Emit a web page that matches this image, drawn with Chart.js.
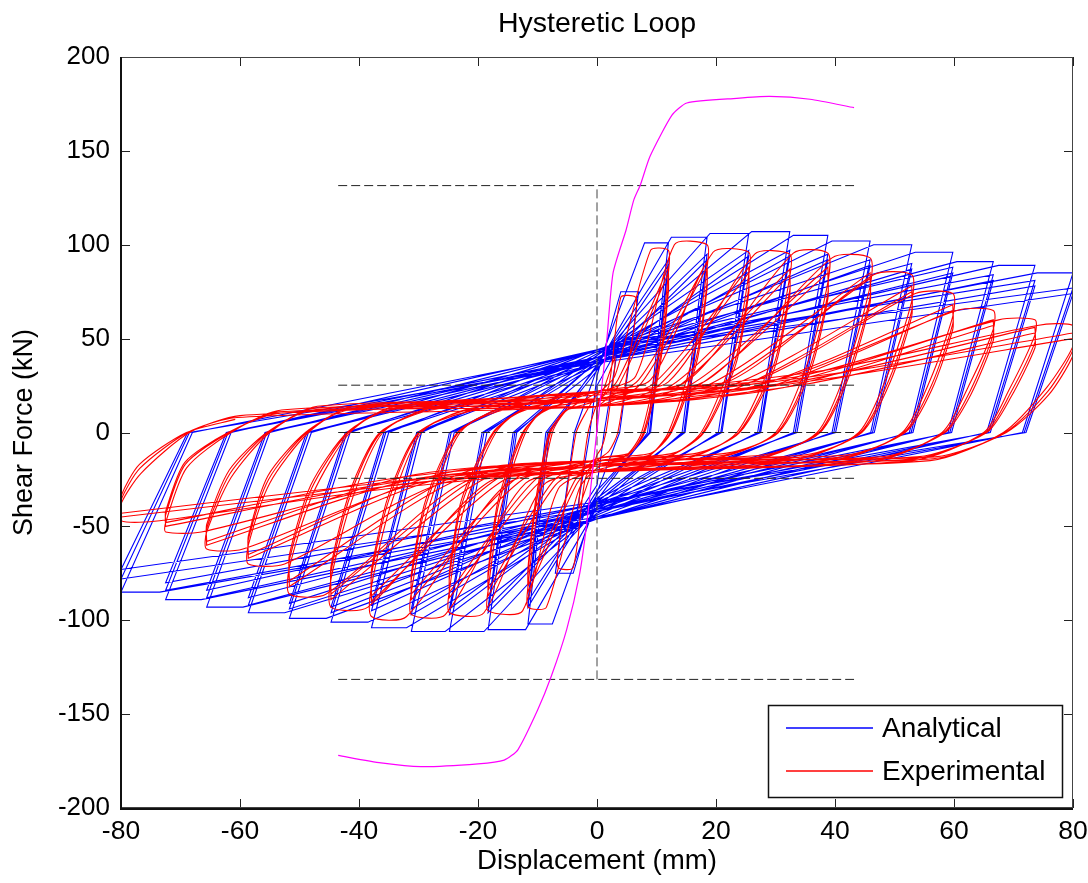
<!DOCTYPE html>
<html>
<head>
<meta charset="utf-8">
<script src="https://cdn.jsdelivr.net/npm/chart.js@4.4.0/dist/chart.umd.min.js"></script>
<style>
html,body{margin:0;padding:0;background:#fff;}
#wrap{width:1088px;height:883px;position:relative;}
canvas{display:block;}
</style>
</head>
<body>
<div id="wrap"><canvas id="c" width="1088" height="883"></canvas></div>
<script>
// ---------------- Axis / tick data ----------------
const xTicks = [-80, -60, -40, -20, 0, 20, 40, 60, 80];
const yTicks = [-200, -150, -100, -50, 0, 50, 100, 150, 200];

// ---------------- Analytical (blue) cycles ----------------
const bUp    = [25, 30, 34, 36, 33, 35, 38, 34, 38, 41, 36, 38, 42, 36, 39, 43, 37, 40, 44, 37, 40, 44, 37, 40, 44, 38, 40, 44, 38, 40, 44, 38, 40, 43, 37];
const bPPlat = [3.5, 4, 8, 12, 12, 12.5, 18.5, 18.5, 19, 25.5, 25.5, 26, 32.4, 32.4, 33, 38.8, 38.8, 39.5, 45.9, 45.9, 46.5, 52.9, 52.9, 53.5, 59.8, 59.8, 60.5, 66.6, 66.6, 67.5, 73.6, 73.6, 74, 80, 80];
const bPAmp  = [3.5, 7, 12, 12, 12, 18.5, 18.5, 18.5, 25.5, 25.5, 25.5, 32.4, 32.4, 32.4, 38.8, 38.8, 38.8, 45.9, 45.9, 45.9, 52.9, 52.9, 52.9, 59.8, 59.8, 59.8, 66.6, 66.6, 66.6, 73.6, 73.6, 73.6, 80, 80, 80];
const bPPeak = [45, 75, 101, 92, 89, 104, 95, 92, 106, 97, 94, 107, 97, 94, 105, 95, 92, 102, 92, 89, 100, 90, 87, 96, 88, 85, 91, 84, 81, 89, 81, 78, 85, 77, 74];
const bPZero = [1.2, 3.8, 8.5, 8.8, 9.0, 14.3, 14.6, 14.8, 20.4, 20.8, 21.0, 27, 27.3, 27.5, 33, 33.3, 33.6, 39.5, 39.8, 40.1, 46, 46.3, 46.6, 52.5, 52.8, 53.1, 59, 59.3, 59.6, 65.5, 65.8, 66.1, 71.5, 71.8, 72.1];
const bDown  = [-28, -32, -36, -33, -31, -40, -37, -35, -41, -38, -36, -43, -40, -37, -44, -41, -38, -45, -41, -38, -46, -42, -39, -46, -42, -39, -46, -42, -38, -46, -42, -38, -45, -41, -37];
const bNPlat = [-3.5, -4, -7.5, -11.6, -11.6, -12, -18.3, -18.3, -19, -24.8, -24.8, -25.5, -31.2, -31.2, -32, -37.9, -37.9, -38.5, -44.7, -44.7, -45.5, -51.7, -51.7, -52.5, -58.6, -58.6, -59.5, -65.6, -65.6, -66.5, -72.5, -72.5, -73.5, -80, -80];
const bNAmp  = [-3.5, -7, -11.6, -11.6, -11.6, -18.3, -18.3, -18.3, -24.8, -24.8, -24.8, -31.2, -31.2, -31.2, -37.9, -37.9, -37.9, -44.7, -44.7, -44.7, -51.7, -51.7, -51.7, -58.6, -58.6, -58.6, -65.6, -65.6, -65.6, -72.5, -72.5, -72.5, -80, -80, -80];
const bNPeak = [-45, -75, -102, -93, -90, -105, -96, -93, -106, -97, -94, -106, -97, -94, -104, -95, -92, -101, -96, -93, -99, -94, -91, -96, -92, -88, -93, -88, -84, -89, -84, -80, -85, -78, -73];
const bNZero = [-1.2, -3.8, -8, -8.3, -8.6, -13.5, -13.8, -14.1, -18.5, -19, -19.3, -24, -24.5, -24.8, -29.5, -30, -30.3, -35, -35.5, -35.8, -41.5, -42, -42.3, -48, -48.5, -48.8, -55, -55.5, -55.8, -61.5, -62, -62.3, -68, -68.5, -68.8];

// ---------------- Experimental (red) cycles ----------------
const rUp      = [12, 15, 20, 17, 14, 21, 17, 14, 22, 18, 14, 22, 18, 14, 22, 18, 14, 22, 18, 14, 22, 18, 14, 22, 18, 14, 21, 18, 14, 21, 17, 14, 20, 17, 14];
const rPKneeX  = [0.8, 2, 3, 3.5, 3.8, 6.5, 7, 7.4, 9, 9.5, 10, 12, 12.5, 13, 15, 15.5, 16, 18, 18.5, 19, 22, 22.5, 23, 26, 27, 27.5, 30, 31, 31.5, 34, 35, 35.5, 38, 39, 39.5];
const rPKneeF  = [20, 25, 30, 28, 26, 30, 28, 26, 28, 26, 24, 27, 25, 23, 27, 25, 23, 27, 25, 23, 27, 25, 23, 27, 25, 23, 28, 26, 24, 30, 28, 26, 33, 31, 29];
const rPPlat   = [3, 4, 9, 12, 12, 13, 18.5, 18.5, 19.5, 25.5, 25.5, 26.5, 32.4, 32.4, 33, 38.8, 38.8, 39.5, 45.9, 45.9, 46.5, 52.9, 52.9, 53.5, 59.8, 59.8, 60.5, 66.6, 66.6, 67.5, 73.6, 73.6, 74, 80, 80];
const rPAmp    = [3, 6.5, 12, 12, 12, 18.5, 18.5, 18.5, 25.5, 25.5, 25.5, 32.4, 32.4, 32.4, 38.8, 38.8, 38.8, 45.9, 45.9, 45.9, 52.9, 52.9, 52.9, 59.8, 59.8, 59.8, 66.6, 66.6, 66.6, 73.6, 73.6, 73.6, 80, 80, 80];
const rPPeak   = [40, 72, 97, 88, 85, 100, 91, 88, 96, 88, 85, 95, 87, 84, 95.5, 88, 85, 93, 85, 82, 84, 78, 75, 74, 68, 65, 65, 60, 57, 60, 56, 53, 57, 53, 50];
const rPDrop   = [35, 62, 85, 78, 75, 88, 80, 77, 84, 77, 74, 83, 76, 73, 80, 74, 71, 78, 72, 69, 70, 65, 62, 62, 58, 55, 55, 52, 49, 52, 48, 45, 46, 44, 41];
const rPCurveX = [2.2, 5.2, 10.5, 10.6, 10.7, 16.5, 16.7, 16.8, 23, 23.2, 23.3, 29.5, 29.7, 29.8, 35.5, 35.7, 35.8, 42.2, 42.4, 42.5, 49, 49.2, 49.3, 56, 56.2, 56.3, 62.5, 62.7, 62.8, 69.3, 69.5, 69.6, 75.6, 75.8, 75.9];
const rPCurveF = [15, 35, 45, 40, 38, 45, 40, 38, 42, 38, 36, 40, 36, 34, 38, 34, 32, 36, 33, 31, 32, 29, 27, 28, 25, 23, 25, 22, 20, 23, 21, 19, 24, 22, 20];
const rPZero   = [1.5, 3.5, 7.5, 7.8, 8, 12, 12.3, 12.5, 17.5, 17.8, 18, 23.5, 23.8, 24, 30, 30.3, 30.5, 37, 37.3, 37.5, 44, 44.3, 44.5, 51.3, 51.6, 51.8, 58, 58.3, 58.5, 65, 65.3, 65.5, 68.3, 68.6, 68.8];
const rPFlatX  = [0.8, 2, 5, 5.2, 5.4, 8.5, 8.8, 9, 12, 12.5, 12.8, 16, 16.5, 16.8, 21, 21.5, 21.8, 27, 27.5, 27.8, 34, 34.5, 34.8, 41, 41.5, 41.8, 47, 47.5, 47.8, 53, 53.5, 53.8, 56, 56.5, 56.8];
const rPFlatF  = [-8, -10, -12, -12, -11, -13, -12, -11, -13, -12, -11, -13, -12, -11, -13, -12, -11, -14, -13, -12, -14, -13, -12, -14, -13, -12, -15, -14, -13, -15, -14, -13, -15, -14, -13];
const rDown    = [-12, -15, -19, -16, -14, -20, -17, -14, -21, -17, -15, -21, -18, -15, -21, -18, -15, -21, -18, -15, -21, -18, -15, -21, -18, -15, -21, -18, -15, -21, -18, -15, -20, -17, -15];
const rNKneeX  = [-0.8, -2, -3, -3.5, -3.8, -6.5, -7, -7.4, -9, -9.5, -10, -12, -12.5, -13, -15, -15.5, -16, -18, -18.5, -19, -22, -22.5, -23, -26, -27, -27.5, -30, -31, -31.5, -34, -35, -35.5, -38, -39, -39.5];
const rNKneeF  = [-20, -25, -30, -28, -26, -30, -28, -26, -28, -26, -24, -27, -25, -23, -27, -25, -23, -26, -24, -22, -26, -24, -22, -27, -25, -23, -27, -25, -23, -28, -27, -25, -31, -30, -28];
const rNPlat   = [-3, -4, -8.5, -11.6, -11.6, -12.5, -18.3, -18.3, -19, -24.8, -24.8, -25.5, -31.2, -31.2, -32, -37.9, -37.9, -38.5, -44.7, -44.7, -45.5, -51.7, -51.7, -52.5, -58.6, -58.6, -59.5, -65.6, -65.6, -66.5, -72.5, -72.5, -73.5, -80, -80];
const rNAmp    = [-3, -6.5, -11.6, -11.6, -11.6, -18.3, -18.3, -18.3, -24.8, -24.8, -24.8, -31.2, -31.2, -31.2, -37.9, -37.9, -37.9, -44.7, -44.7, -44.7, -51.7, -51.7, -51.7, -58.6, -58.6, -58.6, -65.6, -65.6, -65.6, -72.5, -72.5, -72.5, -80, -80, -80];
const rNPeak   = [-40, -72, -93, -85, -82, -95, -87, -84, -96, -88, -85, -97, -89, -86, -98, -90, -87, -93, -89, -86, -86, -82, -79, -70, -67, -65, -62, -60, -58, -53, -50, -48, -47, -45, -43];
const rNDrop   = [-35, -62, -82, -75, -72, -84, -77, -74, -84, -77, -74, -85, -78, -75, -82, -76, -73, -78, -74, -71, -72, -68, -65, -60, -57, -55, -53, -51, -49, -48, -44, -42, -38, -36, -34];
const rNCurveX = [-2.2, -5.2, -10, -10.2, -10.3, -16.3, -16.5, -16.6, -22.5, -22.7, -22.8, -28.5, -28.7, -28.8, -34.8, -35, -35.1, -41.2, -41.4, -41.5, -47.8, -48, -48.1, -55, -55.2, -55.3, -61.5, -61.7, -61.8, -69, -69.2, -69.3, -76.6, -76.8, -76.9];
const rNCurveF = [-15, -35, -42, -38, -36, -42, -38, -36, -42, -38, -36, -42, -38, -36, -40, -36, -34, -36, -33, -31, -33, -30, -28, -27, -25, -23, -24, -22, -20, -19, -17, -16, -21.6, -19, -17];
const rNZero   = [-1.5, -3.5, -7.5, -7.8, -8, -12, -12.3, -12.5, -17, -17.3, -17.5, -23, -23.3, -23.5, -29.5, -29.8, -30, -36, -36.3, -36.5, -41.5, -41.8, -42, -48.5, -48.8, -49, -55, -55.3, -55.5, -61.5, -61.8, -62, -68.5, -68.8, -69];
const rNFlatX  = [-0.8, -2, -5, -5.2, -5.4, -8.5, -8.8, -9, -12, -12.5, -12.8, -16, -16.5, -16.8, -21, -21.5, -21.8, -27, -27.5, -27.8, -34, -34.5, -34.8, -41, -41.5, -41.8, -47, -47.5, -47.8, -53, -53.5, -53.8, -60, -60.5, -60.8];
const rNFlatF  = [8, 10, 12, 12, 11, 13, 12, 11, 13, 12, 11, 13, 12, 11, 13, 12, 11, 14, 13, 12, 14, 13, 12, 14, 13, 12, 14, 13, 12, 12, 11, 10, 9, 8, 7];

// ---------------- Backbone (magenta) ----------------
const backboneX = [-43.5, -36.3, -29.6, -20, -15.6, -13.3, -10, -7.7, -5.1, -2.9, -1.7, -0.6, 0.5, 1.6, 2.7, 4.9, 6.2, 7.3, 8.9, 12.6, 15.1, 23.5, 29, 35.8, 43.2];
const backboneF = [-172, -176, -178, -176.5, -174.5, -169, -148, -130, -105, -75, -48, -16, 15.7, 47.7, 85, 108, 124, 132, 147, 169, 175.5, 178, 179, 177.5, 173];

// ---------------- Dashed reference lines ----------------
const refLevels = [131.5, 25.2, 0, -24.4, -131.5];
const refXRange = [-43.5, 43.2];
const refVertX = 0;
const refVertRange = [-131.5, 131.5];

// ---------------- Build paths ----------------
function analyticalPath() {
  const p = [{x: 0, y: 0}];
  for (let k = 0; k < bPAmp.length; k++) {
    p.push({x: 0, y: bUp[k]}, {x: bPPlat[k], y: bPPeak[k]}, {x: bPAmp[k], y: bPPeak[k]},
           {x: bPZero[k], y: 0}, {x: 0, y: bDown[k]}, {x: bNPlat[k], y: bNPeak[k]},
           {x: bNAmp[k], y: bNPeak[k]}, {x: bNZero[k], y: 0});
  }
  return p;
}
function experimentalPath() {
  const p = [{x: 0, y: 0}];
  for (let k = 0; k < rPAmp.length; k++) {
    p.push({x: 0, y: rUp[k]}, {x: rPKneeX[k], y: rPKneeF[k]}, {x: rPPlat[k], y: rPPeak[k]},
           {x: rPAmp[k], y: rPPeak[k]}, {x: rPAmp[k], y: rPDrop[k]}, {x: rPCurveX[k], y: rPCurveF[k]},
           {x: rPZero[k], y: 0}, {x: rPFlatX[k], y: rPFlatF[k]}, {x: 0, y: rDown[k]},
           {x: rNKneeX[k], y: rNKneeF[k]}, {x: rNPlat[k], y: rNPeak[k]}, {x: rNAmp[k], y: rNPeak[k]},
           {x: rNAmp[k], y: rNDrop[k]}, {x: rNCurveX[k], y: rNCurveF[k]}, {x: rNZero[k], y: 0},
           {x: rNFlatX[k], y: rNFlatF[k]});
  }
  return p;
}

const FONT = "'Liberation Sans', Arial, Helvetica, sans-serif";

const datasets = [];
datasets.push({label: 'Backbone', data: backboneX.map((x, i) => ({x, y: backboneF[i]})),
  showLine: true, borderColor: '#ff00ff', borderWidth: 1.2, pointRadius: 0, tension: 0.2, order: 0});
refLevels.forEach(v => datasets.push({label: 'ref', data: [{x: refXRange[0], y: v}, {x: refXRange[1], y: v}],
  showLine: true, borderColor: '#222', borderWidth: 1, borderDash: [9, 4], pointRadius: 0, order: 1}));
datasets.push({label: 'ref', data: [{x: refVertX, y: refVertRange[0]}, {x: refVertX, y: refVertRange[1]}],
  showLine: true, borderColor: '#444', borderWidth: 1, borderDash: [9, 4], pointRadius: 0, order: 1});
datasets.push({label: 'Experimental', legend: true, data: experimentalPath(), showLine: true,
  borderColor: '#ff0000', borderWidth: 1.1, pointRadius: 0, tension: 0.25, order: 2});
datasets.push({label: 'Analytical', legend: true, data: analyticalPath(), showLine: true,
  borderColor: '#0000ff', borderWidth: 1.1, pointRadius: 0, tension: 0, order: 3});

const framePlugin = {
  id: 'frame',
  afterDatasetsDraw(chart) {
    const {ctx, chartArea: a, scales: {x, y}} = chart;
    ctx.save();
    ctx.strokeStyle = '#222';
    ctx.lineWidth = 1;
    const tl = 9;
    ctx.beginPath();
    xTicks.forEach(v => {
      const px = Math.round(x.getPixelForValue(v)) + 0.5;
      ctx.moveTo(px, a.bottom); ctx.lineTo(px, a.bottom - tl);
      ctx.moveTo(px, a.top); ctx.lineTo(px, a.top + tl);
    });
    yTicks.forEach(v => {
      const py = Math.round(y.getPixelForValue(v)) + 0.5;
      ctx.moveTo(a.left, py); ctx.lineTo(a.left + tl, py);
      ctx.moveTo(a.right, py); ctx.lineTo(a.right - tl, py);
    });
    ctx.stroke();
    ctx.strokeStyle = '#444';
    ctx.lineWidth = 1;
    ctx.strokeRect(a.left + 0.5, a.top + 0.5, a.right - a.left - 1, a.bottom - a.top - 1);
    ctx.strokeStyle = '#111';
    ctx.lineWidth = 2;
    ctx.beginPath();
    ctx.moveTo(a.left, a.top); ctx.lineTo(a.left, a.bottom + 1); ctx.lineTo(a.right, a.bottom + 1);
    ctx.stroke();
    // legend
    const items = chart.data.datasets.filter(d => d.legend).reverse();
    const bw = 294, bh = 92;
    const bx = a.right - 11 - bw, by = a.bottom - 11 - bh;
    ctx.fillStyle = '#fff';
    ctx.fillRect(bx, by, bw, bh);
    ctx.strokeStyle = '#111';
    ctx.lineWidth = 1.5;
    ctx.strokeRect(bx + 0.5, by + 0.5, bw, bh);
    ctx.font = '28px ' + FONT;
    ctx.textBaseline = 'middle';
    ctx.textAlign = 'left';
    items.forEach((d, i) => {
      const ly = by + 23 + i * 43;
      ctx.strokeStyle = d.borderColor;
      ctx.lineWidth = 1.5;
      ctx.beginPath(); ctx.moveTo(bx + 18, ly); ctx.lineTo(bx + 105, ly); ctx.stroke();
      ctx.fillStyle = '#000';
      ctx.fillText(d.label, bx + 114, ly + 1);
    });
    ctx.restore();
  }
};

new Chart(document.getElementById('c').getContext('2d'), {
  type: 'scatter',
  data: {datasets},
  options: {
    responsive: false,
    animation: false,
    devicePixelRatio: 1,
    layout: {padding: {left: 0, right: 15, top: 0, bottom: 0}},
    plugins: {
      legend: {display: false},
      tooltip: {enabled: false},
      title: {display: true, text: 'Hysteretic Loop', fullSize: false, color: '#000',
        font: {family: FONT, size: 28.5, weight: 'normal'}, padding: {top: 7, bottom: 15.8}}
    },
    scales: {
      x: {
        type: 'linear', min: -80, max: 80,
        afterBuildTicks: s => { s.ticks = xTicks.map(v => ({value: v})); },
        ticks: {color: '#000', font: {family: FONT, size: 26.5}, padding: 7.5, autoSkip: false, maxRotation: 0},
        grid: {display: false, drawTicks: false},
        border: {display: false},
        title: {display: true, text: 'Displacement (mm)', color: '#000', font: {family: FONT, size: 27.7}, padding: {top: 0, bottom: 4.7}},
        afterFit: s => { s.height = 75; s.paddingLeft = 0; s.paddingRight = 0; }
      },
      y: {
        type: 'linear', min: -200, max: 200,
        afterBuildTicks: s => { s.ticks = yTicks.map(v => ({value: v})); },
        ticks: {color: '#000', font: {family: FONT, size: 26}, padding: 11, autoSkip: false},
        grid: {display: false, drawTicks: false},
        border: {display: false},
        title: {display: true, text: 'Shear Force (kN)', color: '#000', font: {family: FONT, size: 27}, padding: {top: 8, bottom: 0}},
        afterFit: s => { s.width = 121; s.paddingTop = 0; s.paddingBottom = 0; }
      }
    }
  },
  plugins: [framePlugin]
});
</script>
</body>
</html>
